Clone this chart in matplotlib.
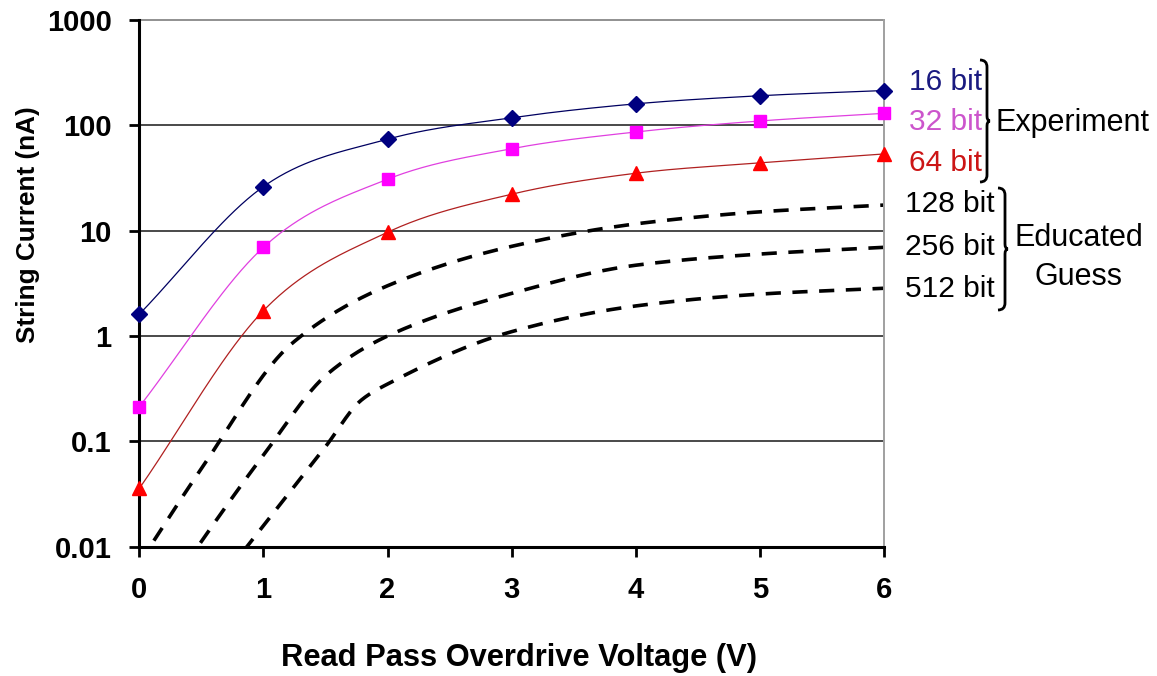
import numpy as np
import matplotlib
matplotlib.use("Agg")
import matplotlib.pyplot as plt
from matplotlib.path import Path
from matplotlib.patches import PathPatch
from matplotlib.ticker import FixedLocator, FixedFormatter, NullLocator

# ---------------- data ----------------
voltage = [0, 1, 2, 3, 4, 5, 6]
i_16bit = [1.61, 26.2, 73.8, 118, 160, 191, 214]
i_32bit = [0.213, 6.95, 30.8, 60, 86.5, 110, 130]
i_64bit = [0.0357, 1.74, 9.66, 22.2, 35.1, 44, 53.5]

v_128bit = [0, 0.5, 1.23, 2, 3, 4, 5, 6]
i_128bit = [0.007, 0.055, 0.85, 3.0, 7.1, 11.6, 15.1, 17.5]
v_256bit = [0, 1.0, 1.52, 2, 3, 4, 5, 6]
i_256bit = [0.0016, 0.074, 0.44, 1.0, 2.54, 4.7, 6.0, 6.95]
v_512bit = [0, 1.0, 1.5, 1.79, 2, 3, 4, 5, 6]
i_512bit = [0.0005, 0.0158, 0.089, 0.247, 0.35, 1.1, 1.93, 2.5, 2.84]

exp_labels = ["16 bit", "32 bit", "64 bit"]
guess_labels = ["128 bit", "256 bit", "512 bit"]
group_labels = ["Experiment", "Educated", "Guess"]
y_ticks = [0.01, 0.1, 1, 10, 100, 1000]
y_tick_labels = ["0.01", "0.1", "1", "10", "100", "1000"]
x_ticks = [0, 1, 2, 3, 4, 5, 6]
x_label = "Read Pass Overdrive Voltage (V)"
y_label = "String Current (nA)"

# ---------------- helpers ----------------
W, H = 1157, 676
FONT = "Liberation Sans"
plt.rcParams["font.family"] = [FONT, "DejaVu Sans"]
plt.rcParams["font.weight"] = "bold"


def fx(x):
    return x / W


def fy(y):
    return 1 - y / H


def smooth_cr(xs, ys, n=40):
    """Catmull-Rom smoothing in (x, log10 y) space (Excel-like smoothed line)."""
    px = np.asarray(xs, float)
    py = np.log10(np.asarray(ys, float))
    P = np.column_stack([px, py])
    P = np.vstack([2 * P[0] - P[1], P, 2 * P[-1] - P[-2]])
    out = []
    for i in range(1, len(P) - 2):
        p0, p1, p2, p3 = P[i - 1], P[i], P[i + 1], P[i + 2]
        t = np.linspace(0, 1, n)[:, None]
        c1 = p1 + (p2 - p0) / 6
        c2 = p2 - (p3 - p1) / 6
        seg = ((1 - t) ** 3) * p1 + 3 * ((1 - t) ** 2) * t * c1 + 3 * (1 - t) * t ** 2 * c2 + t ** 3 * p2
        out.append(seg if i == 1 else seg[1:])
    out = np.vstack(out)
    return out[:, 0], 10 ** out[:, 1]


def smooth_pchip(xs, ys, n=60):
    """Shape-preserving cubic through the points in (x, log10 y) space."""
    x = np.asarray(xs, float)
    y = np.log10(np.asarray(ys, float))
    h = np.diff(x)
    d = np.diff(y) / h
    m = np.zeros_like(y)
    for k in range(1, len(x) - 1):
        if d[k - 1] * d[k] > 0:
            w1 = 2 * h[k] + h[k - 1]
            w2 = h[k] + 2 * h[k - 1]
            m[k] = (w1 + w2) / (w1 / d[k - 1] + w2 / d[k])
    m[0] = d[0]
    m[-1] = d[-1]
    ox, oy = [], []
    for k in range(len(x) - 1):
        t = np.linspace(0, 1, n)
        h00 = 2 * t ** 3 - 3 * t ** 2 + 1
        h10 = t ** 3 - 2 * t ** 2 + t
        h01 = -2 * t ** 3 + 3 * t ** 2
        h11 = t ** 3 - t ** 2
        seg_y = h00 * y[k] + h10 * h[k] * m[k] + h01 * y[k + 1] + h11 * h[k] * m[k + 1]
        seg_x = x[k] + t * h[k]
        if k > 0:
            seg_x, seg_y = seg_x[1:], seg_y[1:]
        ox.append(seg_x)
        oy.append(seg_y)
    return np.concatenate(ox), 10 ** np.concatenate(oy)


# ---------------- figure ----------------
fig = plt.figure(figsize=(W / 100, H / 100), dpi=100)
ax_l, ax_r, ax_t, ax_b = 139.3, 884, 20, 546.7
ax = fig.add_axes([fx(ax_l), fy(ax_b), (ax_r - ax_l) / W, (ax_b - ax_t) / H])
ax.set_yscale("log")
ax.set_xlim(0, 6)
ax.set_ylim(0.01, 1000)

# grid lines
for yv in y_ticks[1:-1]:
    ax.axhline(yv, color="#2a2a2a", lw=1.2, zorder=1)
ax.axhline(1000, color="#909090", lw=1.4, zorder=1, clip_on=False)

# experiment curves
series = [
    (i_16bit, "#000080", "#000060", "D", 8.0),
    (i_32bit, "#FF00FF", "#E040E0", "s", 8.6),
    (i_64bit, "#FF0000", "#B02020", "^", 9.5),
]
for vals, mc, lc, mk, ms in series:
    sx, sy = smooth_cr(voltage, vals)
    ax.plot(sx, sy, color=lc, lw=0.9, zorder=3)
    ax.plot(voltage, vals, linestyle="none", marker=mk, ms=ms, color=mc,
            markeredgecolor=mc, zorder=4, clip_on=False)

# educated guess curves
for vx, vals in [(v_128bit, i_128bit), (v_256bit, i_256bit), (v_512bit, i_512bit)]:
    sx, sy = smooth_pchip(vx, vals)
    ax.plot(sx, sy, color="black", lw=2.6, linestyle=(0, (4.2, 3.2)),
            dash_capstyle="butt", zorder=2)

# axes styling
for s in ["left", "bottom"]:
    ax.spines[s].set_color("black")
    ax.spines[s].set_linewidth(2.2)
ax.spines["top"].set_visible(False)
ax.spines["right"].set_color("#A0A0A0")
ax.spines["right"].set_linewidth(1.4)

ax.yaxis.set_major_locator(FixedLocator(y_ticks))
ax.yaxis.set_major_formatter(FixedFormatter(y_tick_labels))
ax.yaxis.set_minor_locator(NullLocator())
ax.set_xticks(x_ticks)
ax.set_xticklabels([str(v) for v in x_ticks])
ax.tick_params(axis="both", direction="out", length=7.5, width=2.0, color="black",
               labelsize=21)
ax.tick_params(axis="y", pad=12.5)
ax.tick_params(axis="x", pad=13.5)

# axis titles
fig.text(fx(519), fy(658), x_label, ha="center", va="center",
         fontsize=22.2, fontweight="bold")
fig.text(fx(28), fy(225), y_label, ha="center", va="center", rotation=90,
         fontsize=18.8, fontweight="bold")

# right-side labels
exp_colors = ["#1a1a80", "#CC55CC", "#CC1515"]
exp_y = [81.7, 121.7, 163.3]
for lab, c, yy in zip(exp_labels, exp_colors, exp_y):
    fig.text(fx(982), fy(yy), lab, ha="right", va="center", color=c,
             fontsize=21.5, fontweight="normal")
guess_y = [204, 246.7, 289.3]
for lab, yy in zip(guess_labels, guess_y):
    fig.text(fx(995), fy(yy), lab, ha="right", va="center", color="black",
             fontsize=21.5, fontweight="normal")
fig.text(fx(1072.5), fy(123.3), group_labels[0], ha="center", va="center",
         fontsize=22, fontweight="normal")
fig.text(fx(1079), fy(238.3), group_labels[1], ha="center", va="center",
         fontsize=22, fontweight="normal")
fig.text(fx(1079), fy(276.7), group_labels[2], ha="center", va="center",
         fontsize=22, fontweight="normal")


def bracket(x, top, bot, curl=7, bump=3):
    mid = (top + bot) / 2
    pts = [
        (x - curl, top), (x, top), (x, top + curl),
        (x, mid - 5), (x, mid), (x + bump, mid), (x, mid), (x, mid + 5),
        (x, bot - curl), (x, bot), (x - curl, bot),
    ]
    codes = [Path.MOVETO, Path.CURVE3, Path.CURVE3,
             Path.LINETO, Path.CURVE3, Path.CURVE3, Path.CURVE3, Path.CURVE3,
             Path.LINETO, Path.CURVE3, Path.CURVE3]
    verts = [(fx(a), fy(b)) for a, b in pts]
    patch = PathPatch(Path(verts, codes), transform=fig.transFigure,
                      facecolor="none", edgecolor="black", lw=2.0)
    fig.add_artist(patch)


bracket(987, 60, 182)
bracket(1005, 188, 310)

fig.savefig("out.png", dpi=100, facecolor="white")
